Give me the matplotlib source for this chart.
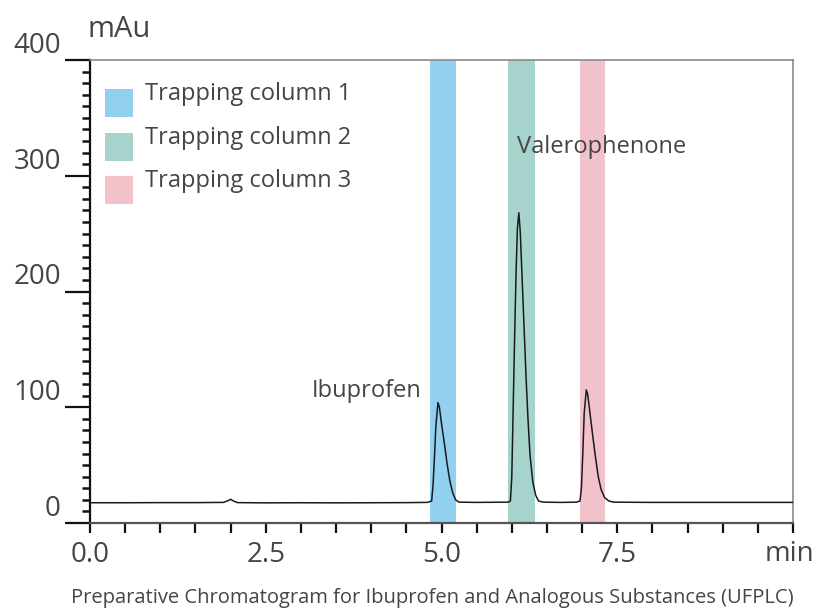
import matplotlib
matplotlib.use("Agg")
import matplotlib.pyplot as plt
from matplotlib.patches import Rectangle
from matplotlib.ticker import MultipleLocator

plt.rcParams['font.family'] = ['Open Sans', 'DejaVu Sans']

# Chromatogram trace (min, mAu)
time_min = [0.0, 0.5, 1.0, 1.5, 1.9, 1.97, 2.0, 2.04, 2.1, 2.5, 3.0, 3.5, 4.0, 4.5,
            4.80, 4.86, 4.88, 4.90, 4.92, 4.95, 4.97, 5.00, 5.04, 5.08, 5.12, 5.16, 5.20, 5.25,
            5.5, 5.95, 5.98, 6.00, 6.02, 6.04, 6.06, 6.08, 6.10, 6.12, 6.14, 6.17, 6.20,
            6.23, 6.26, 6.30, 6.34, 6.38, 6.45,
            6.70, 6.92, 6.97, 6.99, 7.01, 7.03, 7.06, 7.08, 7.11, 7.15, 7.19, 7.23, 7.27,
            7.32, 7.38, 7.45, 8.0, 8.5, 9.0, 9.5, 10.0]
absorbance = [17.5, 17.5, 17.6, 17.6, 17.8, 19.5, 20.5, 19.0, 17.6, 17.4, 17.5, 17.4, 17.5, 17.6,
              17.8, 19, 33, 57, 84, 104, 100, 86, 69, 51, 36, 26, 20, 18,
              17.8, 18, 19, 40, 100, 160, 215, 255, 268, 252, 222, 176, 130,
              90, 58, 35, 24, 19, 18,
              17.8, 18, 19, 30, 60, 95, 115, 111, 96, 76, 57, 40, 29,
              22, 19, 18, 17.8, 17.8, 17.8, 17.8, 17.8]

# Trapping windows (start, end in min)
trap_labels = ['Trapping column 1', 'Trapping column 2', 'Trapping column 3']
trap_start = [4.84, 5.94, 6.97]
trap_end = [5.21, 6.33, 7.33]
trap_colors = ['#92d0f0', '#a6d4cc', '#f2c2ca']

peak_names = ['Ibuprofen', 'Valerophenone']
peak_label_pos = [(4.71, 109), (6.08, 320)]
peak_label_ha = ['right', 'left']

text_color = '#454545'

fig = plt.figure(figsize=(8.16, 6.12), dpi=100)
ax = fig.add_axes([90 / 816, 1 - 523 / 612, 703 / 816, 463 / 612])

for s, e, c in zip(trap_start, trap_end, trap_colors):
    ax.axvspan(s, e, color=c, lw=0, zorder=1)

ax.plot(time_min, absorbance, color='#1a1a1a', lw=1.1, zorder=3)

ax.set_xlim(0, 10)
ax.set_ylim(0, 400)

# spines
ax.spines['left'].set_color('#111111')
ax.spines['left'].set_linewidth(1.6)
ax.spines['bottom'].set_color('#555555')
ax.spines['bottom'].set_linewidth(1.6)
for side in ['top', 'right']:
    ax.spines[side].set_color('#8a8a8a')
    ax.spines[side].set_linewidth(1.2)

# x ticks
ax.set_xticks([0, 2.5, 5.0, 7.5, 10])
ax.set_xticklabels(['0.0', '2.5', '5.0', '7.5', ''])
ax.xaxis.set_minor_locator(MultipleLocator(0.5))
ax.tick_params(axis='x', which='both', direction='out', length=7, width=1.6,
               color='#111111', labelsize=20, labelcolor=text_color, pad=6)

# y ticks
ax.set_yticks([0, 100, 200, 300, 400])
ax.yaxis.set_minor_locator(MultipleLocator(10))
ax.tick_params(axis='y', which='major', direction='out', length=18, width=1.6,
               color='#111111', labelsize=20, labelcolor=text_color, pad=3)
ax.tick_params(axis='y', which='minor', direction='out', length=6, width=1.8,
               color='#111111')
for lab in ax.get_yticklabels():
    lab.set_va('bottom')

# axis unit labels
fig.text(88 / 816, 1 - 37 / 612, 'mAu', fontsize=21, color=text_color, ha='left', va='baseline')
fig.text(814 / 816, 1 - 561 / 612, 'min', fontsize=20, color=text_color, ha='right', va='baseline')

# peak labels
for name, (px, py), ha in zip(peak_names, peak_label_pos, peak_label_ha):
    ax.text(px, py, name, fontsize=17, color=text_color, ha=ha, va='baseline', zorder=4)

# legend drawn as swatches with labels
for i, (lab, c) in enumerate(zip(trap_labels, trap_colors)):
    top = 89 + i * 43.5
    fig.add_artist(Rectangle((105 / 816, 1 - (top + 28) / 612), 28 / 816, 28 / 612,
                             transform=fig.transFigure, color=c, lw=0))
    fig.text(145 / 816, 1 - (top + 11) / 612, lab, fontsize=17, color=text_color,
             ha='left', va='baseline')

fig.text(432 / 816, 1 - 603 / 612,
         'Preparative Chromatogram for Ibuprofen and Analogous Substances (UFPLC)',
         fontsize=14.5, color=text_color, ha='center', va='baseline')

fig.savefig('out.png', dpi=100)
